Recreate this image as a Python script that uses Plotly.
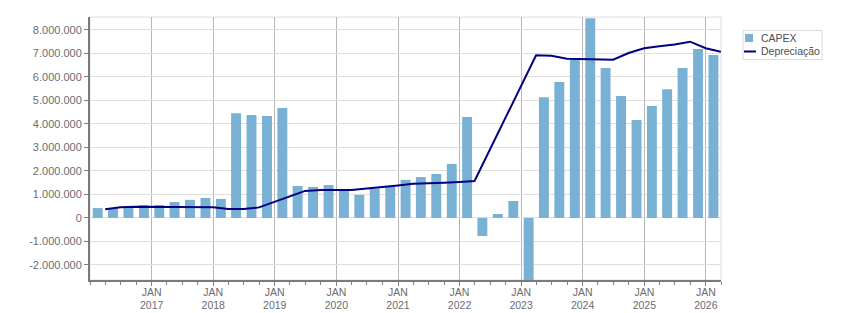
import plotly.graph_objects as go

# Quarter-end dates (Q1 2016 .. Q1 2026)
quarters = [
    "2016-03-31", "2016-06-30", "2016-09-30", "2016-12-31",
    "2017-03-31", "2017-06-30", "2017-09-30", "2017-12-31",
    "2018-03-31", "2018-06-30", "2018-09-30", "2018-12-31",
    "2019-03-31", "2019-06-30", "2019-09-30", "2019-12-31",
    "2020-03-31", "2020-06-30", "2020-09-30", "2020-12-31",
    "2021-03-31", "2021-06-30", "2021-09-30", "2021-12-31",
    "2022-03-31", "2022-06-30", "2022-09-30", "2022-12-31",
    "2023-03-31", "2023-06-30", "2023-09-30", "2023-12-31",
    "2024-03-31", "2024-06-30", "2024-09-30", "2024-12-31",
    "2025-03-31", "2025-06-30", "2025-09-30", "2025-12-31",
    "2026-03-31",
]

# CAPEX
capex = [
    420000, 420000, 480000, 550000,
    550000, 680000, 770000, 850000,
    810000, 4460000, 4380000, 4340000,
    4680000, 1360000, 1320000, 1400000,
    1200000, 980000, 1250000, 1350000,
    1620000, 1740000, 1870000, 2300000,
    4290000, -770000, 170000, 720000,
    -2900000, 5140000, 5780000, 6760000,
    8500000, 6380000, 5190000, 4170000,
    4760000, 5480000, 6380000, 7190000,
    6930000,
]

# Depreciação (None = no value, line connects across)
depreciacao = [
    370000, 460000, 480000, 480000,
    480000, 480000, 480000, 460000,
    380000, 380000, 450000, 700000,
    920000, 1150000, 1190000, 1190000,
    1190000, 1250000, 1300000, 1380000,
    1450000, 1490000, 1500000, 1530000,
    1570000, None, None, None,
    6920000, 6900000, 6770000, 6750000,
    6730000, 6730000, 7020000, 7220000,
    7310000, 7380000, 7500000, 7220000,
    7070000,
]

series_names = ["CAPEX", "Depreciação"]

x_tickvals = ["2017-01-01", "2018-01-01", "2019-01-01", "2020-01-01", "2021-01-01",
              "2022-01-01", "2023-01-01", "2024-01-01", "2025-01-01", "2026-01-01"]
x_ticktext = ["JAN<br>2017", "JAN<br>2018", "JAN<br>2019", "JAN<br>2020", "JAN<br>2021",
              "JAN<br>2022", "JAN<br>2023", "JAN<br>2024", "JAN<br>2025", "JAN<br>2026"]

y_tickvals = [-2000000, -1000000, 0, 1000000, 2000000, 3000000,
              4000000, 5000000, 6000000, 7000000, 8000000]


def fmt(v):
    s = f"{abs(v):,}".replace(",", ".")
    return ("-" + s) if v < 0 else s


y_ticktext = [fmt(v) for v in y_tickvals]

BAR_COLOR = "#78b1d4"
LINE_COLOR = "#000080"

W, H = 851, 313
ML, MR, MT, MB = 90, 130, 17, 33
PW, PH = W - ML - MR, H - MT - MB


def px(xpix):
    return (xpix - ML) / PW


def py(ypix):
    return (H - MB - ypix) / PH


fig = go.Figure()
fig.add_trace(go.Bar(
    x=quarters, y=capex, name=series_names[0],
    marker=dict(color=BAR_COLOR, line=dict(width=0)),
    xperiod="M3", xperiodalignment="middle",
    showlegend=False,
))
fig.add_trace(go.Scatter(
    x=quarters, y=depreciacao, name=series_names[1],
    mode="lines", connectgaps=True,
    line=dict(color=LINE_COLOR, width=2),
    showlegend=False,
))

axis_font = dict(family="Liberation Sans, Arial, sans-serif", size=11, color="#6b6b72")
legend_font = dict(family="Liberation Sans, Arial, sans-serif", size=10.5, color="#4d4d4d")

shapes = [
    # plot frame (light)
    dict(type="rect", xref="paper", yref="paper", x0=0, x1=1, y0=0, y1=1,
         line=dict(color="#dedede", width=1), layer="below"),
    # legend box
    dict(type="rect", xref="paper", yref="paper", x0=px(743), x1=px(822), y0=py(59.5), y1=py(30.5),
         line=dict(color="#dadada", width=1), fillcolor="white", layer="above"),
    # legend swatch CAPEX
    dict(type="rect", xref="paper", yref="paper", x0=px(745), x1=px(753), y0=py(42), y1=py(34),
         line=dict(width=0), fillcolor=BAR_COLOR, layer="above"),
    # legend swatch Depreciação
    dict(type="line", xref="paper", yref="paper", x0=px(744), x1=px(756), y0=py(51.5), y1=py(51.5),
         line=dict(color=LINE_COLOR, width=2), layer="above"),
]

annotations = [
    dict(text=series_names[0], xref="paper", yref="paper", x=px(759), y=py(38.5),
         xanchor="left", yanchor="middle", showarrow=False, font=legend_font),
    dict(text=series_names[1], xref="paper", yref="paper", x=px(759), y=py(51.5),
         xanchor="left", yanchor="middle", showarrow=False, font=legend_font),
]

fig.update_layout(
    width=W, height=H,
    margin=dict(l=ML, r=MR, t=MT, b=MB, autoexpand=False),
    paper_bgcolor="white", plot_bgcolor="white",
    font=dict(family="Liberation Sans, Arial, sans-serif", size=11, color="#555555"),
    bargap=0.35,
    showlegend=False,
    shapes=shapes,
    annotations=annotations,
)

fig.update_xaxes(
    type="date",
    range=["2016-01-01", "2026-04-01"],
    tickmode="array", tickvals=x_tickvals, ticktext=x_ticktext,
    ticks="outside", ticklen=4, tickcolor="#808080", tickwidth=1,
    showgrid=True, gridcolor="#b6b6b6", gridwidth=1,
    showline=True, linecolor="#7a7a7a", linewidth=2,
    tickfont=dict(family="Liberation Sans, Arial, sans-serif", size=10.5, color="#6b6b72"),
    ticklabelstandoff=-3,
    automargin=False,
    minor=dict(tickmode="linear", tick0="2016-01-01", dtick="M3",
               ticks="outside", ticklen=3, tickcolor="#808080", showgrid=False),
    zeroline=False,
)
fig.update_yaxes(
    range=[-2640000, 8550000],
    tickmode="array", tickvals=y_tickvals, ticktext=y_ticktext,
    ticks="outside", ticklen=4, tickcolor="#808080",
    showgrid=True, gridcolor="#dedede", gridwidth=1,
    showline=True, linecolor="#7a7a7a", linewidth=2,
    tickfont=axis_font,
    automargin=False,
    zeroline=False,
)

fig.write_html("out.html")
